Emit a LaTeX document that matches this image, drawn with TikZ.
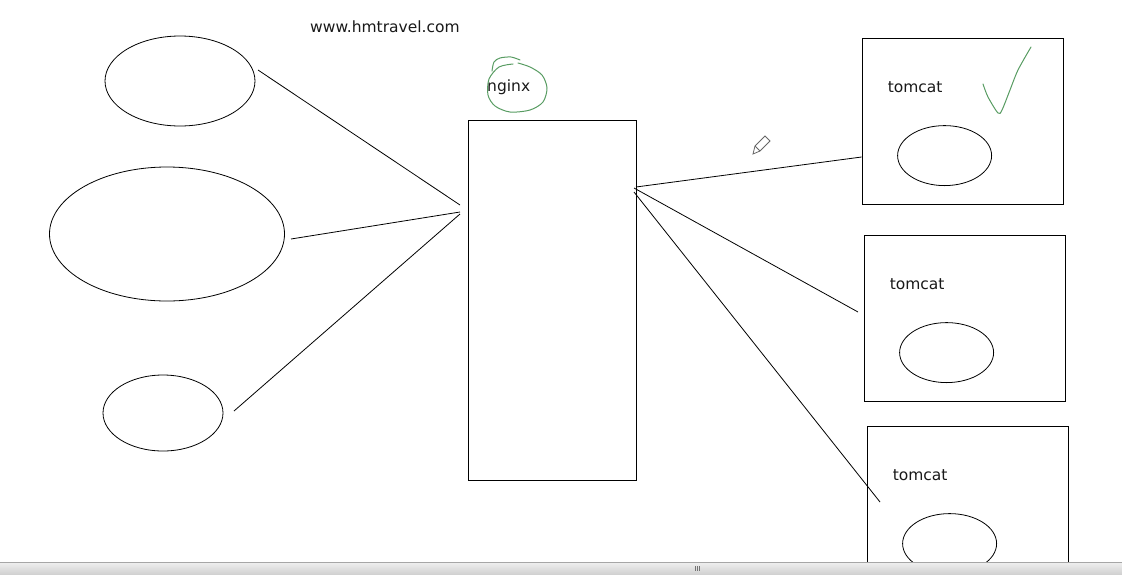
\documentclass[tikz,border=0pt]{standalone}
\usepackage{fontspec}
\setmainfont{DejaVu Sans}
\usetikzlibrary{positioning,shapes.geometric}
\definecolor{inkGreen}{RGB}{88,156,98}

\begin{document}
\begin{tikzpicture}[x=1pt,y=-1pt]
	\tikzstyle{client}=[draw,ellipse,line width=0.8pt,inner sep=0pt]
	\tikzstyle{server}=[draw,rectangle,line width=0.8pt,inner sep=0pt]
	\tikzstyle{note}=[font=\fontsize{15.5}{18}\selectfont,inner sep=0pt,anchor=west,text=black!90]
	\tikzstyle{wire}=[line width=0.8pt]
	\tikzstyle{greenink}=[inkGreen,line width=1pt,line cap=round,line join=round]

	\useasboundingbox (0,0) rectangle (1122,574);
	\clip (0,0) rectangle (1122,574);

	\node[client, minimum width=150, minimum height=90] (userA) at (180,81) {};
	\node[client, minimum width=235, minimum height=134] (userB) at (167,234) {};
	\node[client, minimum width=120, minimum height=76] (userC) at (163,413) {};

	\node[note] (site) at (310,27) {www.hmtravel.com};
	\node[server, minimum width=168, minimum height=360] (nginx) at (552,300) {};
	\node[note] (nginxText) at (487,87) {nginx};

	\node[server, minimum width=201, minimum height=166] (tomcatA) at (962.5,121) {};
	\node[server, minimum width=201, minimum height=166] (tomcatB) at (964.5,318) {};
	\node[server, minimum width=201, minimum height=166] (tomcatC) at (967.5,509) {};
	\foreach \t in {tomcatA,tomcatB,tomcatC}{
		\node[note] (\t Text) at ([shift={(26,50)}]\t.north west) {tomcat};
		\node[client, minimum width=94, minimum height=60] (\t App) at ([shift={(83,118)}]\t.north west) {};
	}

	\coordinate (userAEnd) at (258,70);
	\coordinate (userBEnd) at (291,239);
	\coordinate (userCEnd) at (234,411);
	\coordinate (hubA) at (460,205);
	\coordinate (hubB) at (460,212);
	\coordinate (hubC) at (460,214);
	\draw[wire] (userAEnd) -- (hubA);
	\draw[wire] (userBEnd) -- (hubB);
	\draw[wire] (userCEnd) -- (hubC);

	\coordinate (outA) at (636,187);
	\coordinate (outB) at (634,188);
	\coordinate (outC) at (634,192);
	\coordinate (tomcatBEnd) at (858,312);
	\coordinate (tomcatCEnd) at (880,502);
	\draw[wire] (outA) -- (tomcatA.west |- 0,157);
	\draw[wire] (outB) -- (tomcatBEnd);
	\draw[wire] (outC) -- (tomcatCEnd);

	\draw[greenink] plot[smooth] coordinates {(492,71) (494,62) (500,58) (511,57) (520,60)};
	\draw[greenink] plot[smooth] coordinates {(513,64) (499,67) (489,79) (488,95) (495,106) (510,112) (530,110) (543,102) (547,88) (542,75) (530,67) (518,63)};
	\draw[greenink] plot[smooth] coordinates {(983,84) (988,97) (998,113) (1002,110) (1010,90) (1018,70) (1031,47)};

	\draw[black!60,fill=white,line width=0.8pt] (753,154) -- (755,146) -- (765,136) -- (770,141) -- (760,151) -- cycle;
	\draw[black!60,line width=0.8pt] (755,146) -- (760,151);

	\shade[top color=black!6, bottom color=black!18] (0,562) rectangle (1122,574);
	\draw[black!35] (0,562) -- (1122,562);
	\foreach \g in {695,697,699}
		\draw[black!55,line width=0.5pt] (\g,566) -- (\g,571);
\end{tikzpicture}
\end{document}
